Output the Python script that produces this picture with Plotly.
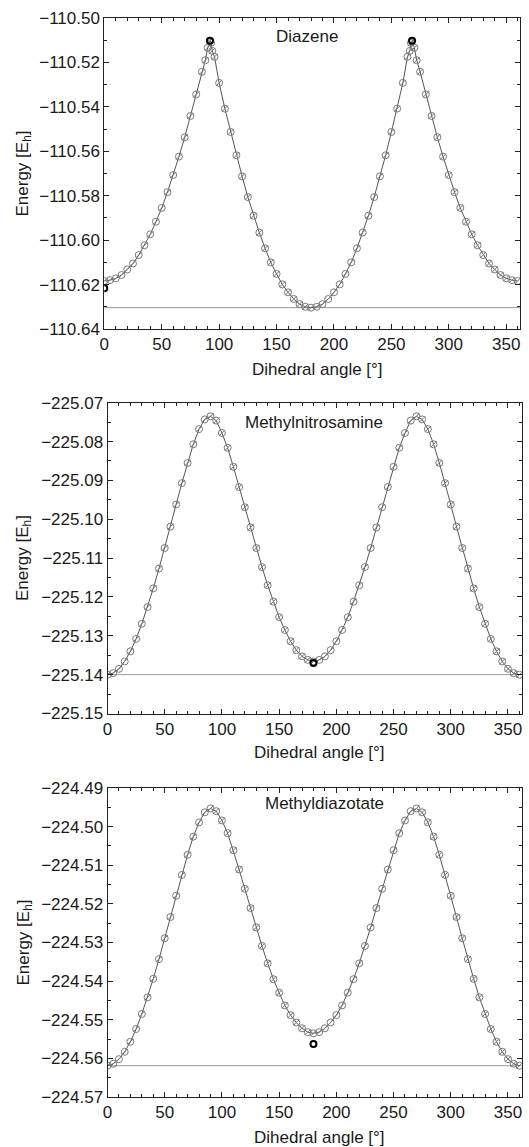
import plotly.graph_objects as go

# ---------------- data ----------------
diazene_angle = [0, 5, 10, 15, 20, 25, 30, 35, 40, 45, 50, 55, 60, 65, 70, 75, 80, 85, 88, 90, 92, 93, 94, 96,
                 100, 105, 110, 115, 120, 125, 130, 135, 140, 145, 150, 155, 160, 165, 170, 175, 180,
                 185, 190, 195, 200, 205, 210, 215, 220, 225, 230, 235, 240, 245, 250, 255, 260,
                 264, 266, 267, 268, 270, 272, 275, 280, 285, 290, 295, 300, 305, 310, 315, 320, 325,
                 330, 335, 340, 345, 350, 355, 360]
diazene_energy = [-110.6184, -110.6180, -110.6172, -110.6157, -110.6132, -110.6105, -110.6067, -110.6023,
                  -110.5974, -110.5917, -110.5855, -110.5784, -110.5707, -110.5624, -110.5537, -110.5441,
                  -110.5344, -110.5242, -110.5190, -110.5134, -110.5103, -110.5112, -110.5148, -110.5175,
                  -110.5292, -110.5408, -110.5513, -110.5618, -110.5713, -110.5806, -110.5890, -110.5966,
                  -110.6037, -110.6100, -110.6152, -110.6199, -110.6235, -110.6265, -110.6288, -110.6300,
                  -110.6304,
                  -110.6300, -110.6288, -110.6265, -110.6235, -110.6199, -110.6152, -110.6100, -110.6037,
                  -110.5966, -110.5890, -110.5806, -110.5713, -110.5618, -110.5513, -110.5408, -110.5292,
                  -110.5175, -110.5148, -110.5112, -110.5103, -110.5134, -110.5190, -110.5242, -110.5344,
                  -110.5441, -110.5537, -110.5624, -110.5707, -110.5784, -110.5855, -110.5917, -110.5974,
                  -110.6023, -110.6067, -110.6105, -110.6132, -110.6157, -110.6172, -110.6180, -110.6184]
diazene_ref_angle = [0, 92, 268]
diazene_ref_energy = [-110.6217, -110.5102, -110.5102]
diazene_baseline = -110.6304

angle_5deg = [0, 5, 10, 15, 20, 25, 30, 35, 40, 45, 50, 55, 60, 65, 70, 75, 80, 85, 90, 95, 100, 105,
              110, 115, 120, 125, 130, 135, 140, 145, 150, 155, 160, 165, 170, 175, 180, 185, 190, 195,
              200, 205, 210, 215, 220, 225, 230, 235, 240, 245, 250, 255, 260, 265, 270, 275, 280, 285,
              290, 295, 300, 305, 310, 315, 320, 325, 330, 335, 340, 345, 350, 355, 360]

mna_energy = [-225.1400, -225.1396, -225.1385, -225.1366, -225.1340, -225.1308, -225.1269, -225.1226,
              -225.1178, -225.1127, -225.1074, -225.1019, -225.0962, -225.0907, -225.0855, -225.0807,
              -225.0768, -225.0743, -225.0735, -225.0746, -225.0778, -225.0816, -225.0865, -225.0917,
              -225.0969, -225.1021, -225.1074, -225.1123, -225.1170, -225.1212, -225.1252, -225.1285,
              -225.1314, -225.1337, -225.1353, -225.1362, -225.1366,
              -225.1362, -225.1353, -225.1337, -225.1314, -225.1285, -225.1252, -225.1212, -225.1170,
              -225.1123, -225.1074, -225.1021, -225.0969, -225.0917, -225.0865, -225.0816, -225.0778,
              -225.0746, -225.0735, -225.0743, -225.0768, -225.0807, -225.0855, -225.0907, -225.0962,
              -225.1019, -225.1074, -225.1127, -225.1178, -225.1226, -225.1269, -225.1308, -225.1340,
              -225.1366, -225.1385, -225.1396, -225.1400]
mna_ref_angle = [180]
mna_ref_energy = [-225.1370]
mna_baseline = -225.1400

mdz_energy = [-224.5619, -224.5614, -224.5602, -224.5583, -224.5557, -224.5524, -224.5485, -224.5442,
              -224.5394, -224.5343, -224.5289, -224.5234, -224.5179, -224.5125, -224.5073, -224.5026,
              -224.4989, -224.4963, -224.4953, -224.4960, -224.4984, -224.5017, -224.5061, -224.5111,
              -224.5161, -224.5211, -224.5261, -224.5309, -224.5354, -224.5395, -224.5430, -224.5463,
              -224.5488, -224.5507, -224.5522, -224.5532, -224.5535,
              -224.5532, -224.5522, -224.5507, -224.5488, -224.5463, -224.5430, -224.5395, -224.5354,
              -224.5309, -224.5261, -224.5211, -224.5161, -224.5111, -224.5061, -224.5017, -224.4984,
              -224.4960, -224.4953, -224.4963, -224.4989, -224.5026, -224.5073, -224.5125, -224.5179,
              -224.5234, -224.5289, -224.5343, -224.5394, -224.5442, -224.5485, -224.5524, -224.5557,
              -224.5583, -224.5602, -224.5614, -224.5619]
mdz_ref_angle = [180]
mdz_ref_energy = [-224.5563]
mdz_baseline = -224.5619

panel_names = ["Diazene", "Methylnitrosamine", "Methyldiazotate"]
x_tick_vals = [0, 50, 100, 150, 200, 250, 300, 350]
y_ranges = [[-110.64, -110.50], [-225.15, -225.07], [-224.57, -224.49]]
y_dticks = [0.02, 0.01, 0.01]

# ---------------- figure ----------------
W, H = 529, 1147
FONT = "Liberation Sans, Arial, Helvetica, sans-serif"
TXT = "#1a1a1a"

panels = [
    dict(x=diazene_angle, y=diazene_energy, rx=diazene_ref_angle, ry=diazene_ref_energy, base=diazene_baseline,
         xd=[104.3 / W, 520 / W], yd=[1 - 329 / H, 1 - 18 / H], title_xy=(307, 37), xt_y=369),
    dict(x=angle_5deg, y=mna_energy, rx=mna_ref_angle, ry=mna_ref_energy, base=mna_baseline,
         xd=[107.5 / W, 521.7 / W], yd=[1 - 713.5 / H, 1 - 402.7 / H], title_xy=(314, 422), xt_y=752),
    dict(x=angle_5deg, y=mdz_energy, rx=mdz_ref_angle, ry=mdz_ref_energy, base=mdz_baseline,
         xd=[107.5 / W, 521.7 / W], yd=[1 - 1097 / H, 1 - 788 / H], title_xy=(324, 803), xt_y=1137),
]

fig = go.Figure()
layout = dict(template="none", width=W, height=H, autosize=False, margin=dict(l=0, r=0, t=0, b=0, pad=0),
              paper_bgcolor="white", plot_bgcolor="white", showlegend=False,
              font=dict(family=FONT, color=TXT))
annotations = []
shapes = []

for i, p in enumerate(panels):
    n = "" if i == 0 else str(i + 1)
    xa, ya = "x" + n, "y" + n
    fig.add_trace(go.Scatter(x=p["x"], y=p["y"], xaxis=xa, yaxis=ya, mode="lines+markers",
                             line=dict(color="#555555", width=1),
                             marker=dict(symbol="circle-open", size=7, color="#7a7a7a",
                                         line=dict(width=1, color="#7a7a7a")),
                             hoverinfo="skip"))
    fig.add_trace(go.Scatter(x=p["x"], y=p["y"], xaxis=xa, yaxis=ya, mode="markers",
                             marker=dict(symbol="line-ne", size=6, color="#7a7a7a",
                                         line=dict(width=1, color="#7a7a7a")),
                             hoverinfo="skip"))
    fig.add_trace(go.Scatter(x=p["rx"], y=p["ry"], xaxis=xa, yaxis=ya, mode="markers",
                             marker=dict(symbol="circle-open", size=6, color="#000000",
                                         line=dict(width=2, color="#000000")),
                             hoverinfo="skip"))
    shapes.append(dict(type="line", xref=xa + " domain", yref=ya, x0=0, x1=1,
                       y0=p["base"], y1=p["base"], line=dict(color="#9a9a9a", width=1), layer="below"))

    layout["xaxis" + n] = dict(domain=p["xd"], anchor=ya, range=[0, 362], tickvals=x_tick_vals,
                               automargin=False, ticks="inside", ticklen=5, tickcolor="#222",
                               mirror="allticks", showline=True, linecolor="#222", linewidth=1,
                               showgrid=False, zeroline=False,
                               tickfont=dict(size=17, family=FONT, color=TXT),
                               minor=dict(dtick=10, tick0=0, ticks="inside", ticklen=3, tickcolor="#222",
                                          showgrid=False))
    layout["yaxis" + n] = dict(domain=p["yd"], anchor=xa, range=y_ranges[i], dtick=y_dticks[i],
                               tick0=y_ranges[i][0], tickformat=".2f", automargin=False,
                               ticks="inside", ticklen=5, tickcolor="#222", mirror="allticks",
                               showline=True, linecolor="#222", linewidth=1, showgrid=False,
                               zeroline=False, tickfont=dict(size=17, family=FONT, color=TXT),
                               minor=dict(dtick=y_dticks[i] / 2, ticks="inside", ticklen=3,
                                          tickcolor="#222", showgrid=False))

    tx, ty = p["title_xy"]
    annotations.append(dict(text=panel_names[i], x=tx / W, y=1 - ty / H, xref="paper", yref="paper",
                            showarrow=False, font=dict(size=17, family=FONT, color=TXT),
                            xanchor="center", yanchor="middle"))
    xmid = (p["xd"][0] + p["xd"][1]) / 2
    annotations.append(dict(text="Dihedral angle [°]", x=xmid + 5 / W, y=1 - p["xt_y"] / H,
                            xref="paper", yref="paper", showarrow=False,
                            font=dict(size=17, family=FONT, color=TXT),
                            xanchor="center", yanchor="middle"))
    annotations.append(dict(text="Energy [E<sub>h</sub>]", x=24 / W, y=(p["yd"][0] + p["yd"][1]) / 2,
                            xref="paper", yref="paper", showarrow=False, textangle=-90,
                            font=dict(size=17, family=FONT, color=TXT),
                            xanchor="center", yanchor="middle"))

layout["annotations"] = annotations
layout["shapes"] = shapes
fig.update_layout(**layout)
fig.write_html("out.html", config={"displayModeBar": False, "staticPlot": True},
               post_script="document.body.style.margin='0px';document.body.style.overflow='hidden';")
